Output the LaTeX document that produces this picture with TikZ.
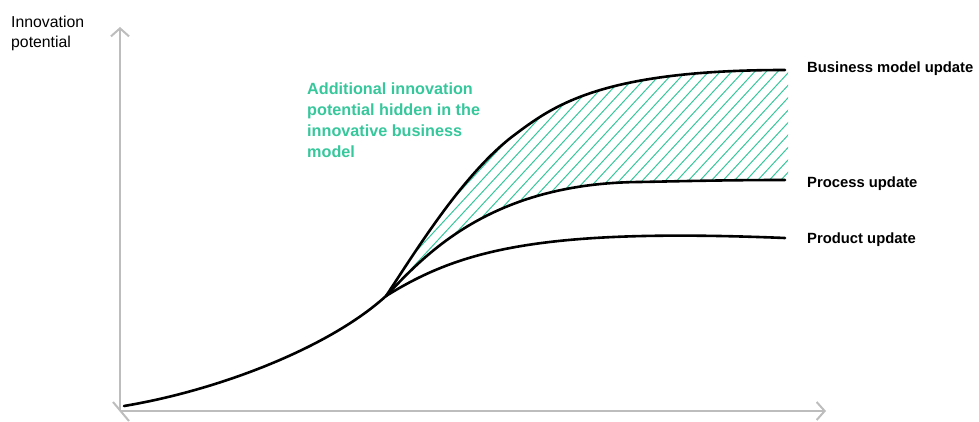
\documentclass[tikz,border=0pt]{standalone}
\usepackage{fontspec}
\setmainfont{Liberation Sans}
\usetikzlibrary{arrows.meta}
\definecolor{AxisGray}{HTML}{BDBDBD}
\definecolor{Mint}{HTML}{36C79A}

\begin{document}
\begin{tikzpicture}[x=1pt, y=-1pt,
  axis/.style={draw=AxisGray, line width=2pt, -{Straight Barb[length=8pt, width=18pt]}},
  curve/.style={line width=2.6pt, line cap=round},
  tag/.style={anchor=base west, inner sep=0pt, font=\bfseries\fontsize{14.8}{17}\selectfont}]
  \useasboundingbox (0,0) rectangle (979,422);
  % Key points
  \coordinate (origin) at (120,411);
  \coordinate (ytip) at (120,27);
  \coordinate (xtip) at (826,411);
  \coordinate (tickA) at (113,402);
  \coordinate (tickB) at (129,421);
  \coordinate (start) at (124,406);
  \coordinate (branch) at (386,296);
  \coordinate (bmMid) at (513,136);
  \coordinate (prcMid) at (640,182);
  \coordinate (bmEnd) at (785,70);
  \coordinate (prcEnd) at (785,180);
  \coordinate (prdEnd) at (785,238);
  % Hatched gap between the two upper curves
  \begin{scope}
    \clip (branch) .. controls (414,254) and (462,175) .. (bmMid)
      .. controls (553,106) and (600,70) .. (bmEnd) -- (788,70) -- (788,180)
      -- (prcEnd) .. controls (730,180) and (690,181) .. (prcMid)
      .. controls (490,183) and (425,255) .. (branch) -- cycle;
    \foreach \s in {30,41.5,...,700}
      \draw[Mint, line width=1pt] (\s,420) -- (\s+370,20);
  \end{scope}
  % Axes
  \draw[axis] (origin) -- (ytip);
  \draw[axis] (origin) -- (xtip);
  \draw[AxisGray, line width=2pt] (tickA) -- (tickB);
  % Curves
  \draw[curve] (start) .. controls (220,390) and (330,347) .. (branch);
  \draw[curve] (branch) .. controls (414,254) and (462,175) .. (bmMid)
    .. controls (553,106) and (600,70) .. (bmEnd);
  \draw[curve] (branch) .. controls (425,255) and (490,183) .. (prcMid)
    .. controls (690,181) and (730,180) .. (prcEnd);
  \draw[curve] (branch) .. controls (460,250) and (540,228) .. (prdEnd);
  % Labels
  \node[anchor=north west, align=left, inner sep=0pt,
    font=\fontsize{15.8}{20}\selectfont] (ylabel) at (11,15.5) {Innovation\\potential};
  \node[anchor=north west, align=left, inner sep=0pt, text=Mint,
    font=\bfseries\fontsize{16.2}{20.8}\selectfont] (gap) at (307,83)
    {Additional innovation\\potential hidden in the\\innovative business\\model};
  \node[tag] (bm) at (807,73) {Business model update};
  \node[tag] (prc) at (807,187) {Process update};
  \node[tag] (prd) at (807,243) {Product update};
\end{tikzpicture}
\end{document}
